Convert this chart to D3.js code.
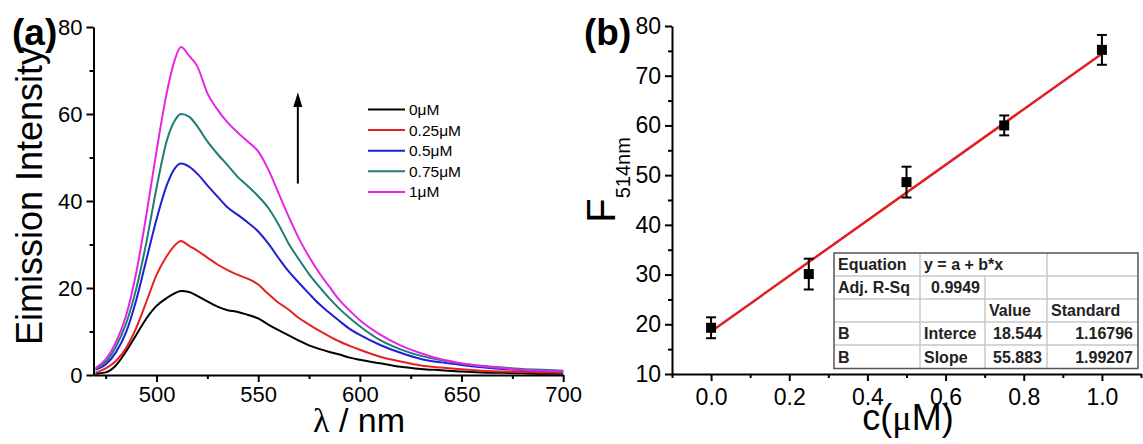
<!DOCTYPE html>
<html>
<head>
<meta charset="utf-8">
<script src="https://cdn.jsdelivr.net/npm/d3@7"></script>
<style>
  body { margin: 0; background: #fff; }
  svg { display: block; font-family: "Liberation Sans", Arial, sans-serif; }
  .axis path, .axis line { stroke: #000; stroke-width: 2; }
  .axis text { fill: #000; }
</style>
</head>
<body>
<svg id="chart" width="1143" height="444"></svg>
<script>
/*
*    two panel figure: emission spectra (a) and calibration line (b)
*/

// ---- (a) spectra, values ----
const wavelengths = [470, 475, 480, 485, 490, 495, 500, 505, 509, 512, 516, 520,
  525, 530, 535, 540, 545, 550, 555, 560, 565, 570, 575, 580, 585, 590, 595, 600,
  610, 620, 630, 640, 650, 660, 670, 680, 690, 700];

const conc0 = [0.3, 0.6, 2.2, 5.4, 9.2, 13.0, 15.9, 17.7, 18.8, 19.3, 19.1, 18.2,
  16.9, 15.7, 14.9, 14.5, 13.8, 13.0, 11.6, 10.3, 9.1, 7.9, 6.8, 6.0, 5.3, 4.7, 4.0, 3.5,
  2.7, 1.9, 1.4, 1.1, 0.8, 0.6, 0.5, 0.4, 0.3, 0.3];
const conc025 = [0.5, 1.5, 3.2, 6.2, 10.8, 16.8, 23.0, 27.3, 29.8, 30.8, 29.7, 28.6,
  27.0, 25.4, 24.1, 23.0, 22.1, 20.8, 18.6, 16.6, 15.0, 13.1, 11.6, 10.2, 8.9, 7.7, 6.7, 5.8,
  4.2, 3.1, 2.2, 1.7, 1.3, 1.0, 0.8, 0.7, 0.6, 0.5];
const conc05 = [1.2, 2.4, 5.2, 9.8, 17.2, 26.5, 35.8, 43.6, 47.5, 48.6, 47.9, 46.3,
  43.6, 41.0, 38.5, 36.8, 35.0, 33.0, 30.2, 26.9, 23.8, 21.2, 18.7, 16.3, 14.3, 12.4, 10.6, 9.2,
  6.9, 5.1, 3.7, 2.9, 2.3, 1.8, 1.4, 1.1, 0.9, 0.8];
const conc075 = [1.4, 3.0, 6.5, 11.8, 19.8, 30.5, 43.0, 53.8, 58.5, 60.0, 59.4, 57.2,
  53.7, 50.8, 48.2, 45.5, 43.4, 41.1, 38.4, 34.6, 30.2, 26.6, 23.2, 20.3, 17.6, 15.2, 13.1, 11.2,
  8.0, 5.9, 4.4, 3.4, 2.6, 2.1, 1.7, 1.4, 1.2, 1.0];
const conc1 = [1.6, 3.6, 7.5, 13.6, 23.5, 36.8, 51.5, 64.8, 72.5, 75.4, 73.4, 71.0,
  64.8, 61.0, 58.0, 55.7, 53.6, 51.4, 47.2, 41.8, 36.4, 31.4, 27.2, 23.5, 20.3, 17.2, 14.8, 12.6,
  9.3, 6.8, 5.0, 3.6, 2.7, 2.0, 1.6, 1.2, 1.0, 0.8];

const seriesLabels = ["0\u03bcM", "0.25\u03bcM", "0.5\u03bcM", "0.75\u03bcM", "1\u03bcM"];
const seriesValues = [conc0, conc025, conc05, conc075, conc1];
const seriesColors = ["#000000", "#e8201e", "#1f1fd6", "#1e7d70", "#e625e6"];

const xTicksA = [500, 550, 600, 650, 700];
const xMinorA = [475, 525, 575, 625, 675];
const yTicksA = [0, 20, 40, 60, 80];
const yMinorA = [10, 30, 50, 70];

// ---- (b) calibration ----
const concs = [0, 0.25, 0.5, 0.75, 1.0];
const f514 = [19.3, 30.1, 48.6, 60.0, 75.2];
const f514Err = [2.1, 3.1, 3.1, 2.0, 3.0];
const fitIntercept = 18.544;
const fitSlope = 55.883;

const xTicksB = [0, 0.2, 0.4, 0.6, 0.8, 1.0];
const xMinorB = [-0.1, 0.1, 0.3, 0.5, 0.7, 0.9, 1.1];
const yTicksB = [10, 20, 30, 40, 50, 60, 70, 80];
const yMinorB = [15, 25, 35, 45, 55, 65, 75];

const tableRows = [
  ["Equation", "y = a + b*x", "", ""],
  ["Adj. R-Sq", "0.9949", "", ""],
  ["", "", "Value", "Standard"],
  ["B", "Interce", "18.544", "1.16796"],
  ["B", "Slope", "55.883", "1.99207"]
];

const svg = d3.select("#chart");

// Scales
const xA = d3.scaleLinear().domain([469, 700]).range([93.5, 563.2]);
const yA = d3.scaleLinear().domain([0, 80]).range([375, 27]);
const xB = d3.scaleLinear().domain([-0.1, 1.1]).range([672, 1141]);
const yB = d3.scaleLinear().domain([10, 80]).range([374, 26]);

function drawAxes(x, y, opts) {
  const [x0] = x.range();
  const [y0] = y.range();

  svg.append("g").attr("class", "axis")
    .attr("transform", `translate(0,${y0})`)
    .call(d3.axisBottom(x).tickValues(opts.xMinor).tickSize(4).tickSizeOuter(0).tickFormat(""))
    .call(g => g.select(".domain").remove());
  svg.append("g").attr("class", "axis")
    .attr("transform", `translate(${x0},0)`)
    .call(d3.axisLeft(y).tickValues(opts.yMinor).tickSize(4).tickSizeOuter(0).tickFormat(""))
    .call(g => g.select(".domain").remove());

  svg.append("g").attr("class", "axis")
    .attr("transform", `translate(0,${y0})`)
    .call(d3.axisBottom(x).tickValues(opts.xMajor).tickSize(7).tickSizeOuter(0)
      .tickPadding(opts.xPad).tickFormat(opts.xFmt))
    .call(g => g.selectAll("text").style("font-size", opts.fs + "px").style("font-family", null));
  svg.append("g").attr("class", "axis")
    .attr("transform", `translate(${x0},0)`)
    .call(d3.axisLeft(y).tickValues(opts.yMajor).tickSize(7).tickSizeOuter(0)
      .tickPadding(opts.yPad).tickFormat(opts.yFmt))
    .call(g => g.selectAll("text").style("font-size", opts.fs + "px").style("font-family", null));
}

// ---------- panel (a) ----------
const line = d3.line()
  .x((d, i) => xA(wavelengths[i]))
  .y(d => yA(d))
  .curve(d3.curveMonotoneX);

svg.append("g")
  .selectAll("path")
  .data(seriesValues)
  .join("path")
    .attr("d", line)
    .attr("fill", "none")
    .attr("stroke", (d, i) => seriesColors[i])
    .attr("stroke-width", 2);

drawAxes(xA, yA, {
  xMajor: xTicksA, xMinor: xMinorA, yMajor: yTicksA, yMinor: yMinorA,
  xFmt: d3.format("d"), yFmt: d3.format("d"), fs: 22, xPad: 4, yPad: 4
});

// arrow
const arrowX = xA(569.5);
svg.append("line")
  .attr("x1", arrowX).attr("x2", arrowX)
  .attr("y1", yA(44)).attr("y2", yA(62))
  .attr("stroke", "#000").attr("stroke-width", 2);
svg.append("path")
  .attr("d", `M${arrowX},${yA(65)} L${arrowX - 4.5},${yA(61.6)} L${arrowX + 4.5},${yA(61.6)} Z`)
  .attr("fill", "#000");

// legend
const legend = svg.selectAll(".legend")
  .data(seriesLabels)
  .join("g")
    .attr("class", "legend")
    .attr("transform", (d, i) => `translate(368,${109.5 + i * 20.6})`);

legend.append("line")
  .attr("x1", 0).attr("x2", 37)
  .attr("stroke", (d, i) => seriesColors[i])
  .attr("stroke-width", 2);

legend.append("text")
  .attr("x", 41)
  .attr("dy", "0.35em")
  .style("font-size", "15.5px")
  .text(d => d);

// labels
svg.append("text")
  .attr("x", 12).attr("y", 45)
  .style("font-size", "37px").style("font-weight", "bold")
  .text("(a)");

svg.append("text")
  .attr("transform", "translate(42,196) rotate(-90)")
  .style("text-anchor", "middle")
  .style("font-size", "36px")
  .text("Eimission Intensity");

const xLabelA = svg.append("text")
  .attr("x", 359).attr("y", 432)
  .style("text-anchor", "middle")
  .style("font-size", "34px");
xLabelA.append("tspan").style("font-family", "'Liberation Serif', serif").text("\u03bb");
xLabelA.append("tspan").text(" / nm");

// ---------- panel (b) ----------
drawAxes(xB, yB, {
  xMajor: xTicksB, xMinor: xMinorB, yMajor: yTicksB, yMinor: yMinorB,
  xFmt: d3.format(".1f"), yFmt: d3.format("d"), fs: 23, xPad: 8, yPad: 4
});

// fit line
svg.append("line")
  .attr("x1", xB(0)).attr("y1", yB(fitIntercept))
  .attr("x2", xB(1)).attr("y2", yB(fitIntercept + fitSlope))
  .attr("stroke", "#e01e1e")
  .attr("stroke-width", 2.5);

// error bars and points
const pts = svg.append("g")
  .selectAll("g")
  .data(concs)
  .join("g");

pts.append("line")
  .attr("x1", d => xB(d)).attr("x2", d => xB(d))
  .attr("y1", (d, i) => yB(f514[i] - f514Err[i]))
  .attr("y2", (d, i) => yB(f514[i] + f514Err[i]))
  .attr("stroke", "#000").attr("stroke-width", 2);

[-1, 1].forEach(s => {
  pts.append("line")
    .attr("x1", d => xB(d) - 5).attr("x2", d => xB(d) + 5)
    .attr("y1", (d, i) => yB(f514[i] + s * f514Err[i]))
    .attr("y2", (d, i) => yB(f514[i] + s * f514Err[i]))
    .attr("stroke", "#000").attr("stroke-width", 2);
});

pts.append("rect")
  .attr("x", d => xB(d) - 5)
  .attr("y", (d, i) => yB(f514[i]) - 5)
  .attr("width", 10).attr("height", 10)
  .attr("fill", "#000");

// stats table
const colX = [834, 920, 985, 1047, 1138];
const rowY = [253, 276, 299, 322, 345, 368.5];
const table = svg.append("g");

table.append("rect")
  .attr("x", colX[0]).attr("y", rowY[0])
  .attr("width", colX[4] - colX[0]).attr("height", rowY[5] - rowY[0])
  .attr("fill", "#fff");

rowY.slice(1, 5).forEach(y => {
  table.append("line")
    .attr("x1", colX[0]).attr("x2", colX[4]).attr("y1", y).attr("y2", y)
    .attr("stroke", "#c8c8c8").attr("stroke-width", 1.5);
});
[[1, 0], [2, 1], [3, 0]].forEach(([c, r]) => {
  table.append("line")
    .attr("x1", colX[c]).attr("x2", colX[c]).attr("y1", rowY[r]).attr("y2", rowY[5])
    .attr("stroke", "#c8c8c8").attr("stroke-width", 1.5);
});

table.append("rect")
  .attr("x", colX[0]).attr("y", rowY[0])
  .attr("width", colX[4] - colX[0]).attr("height", rowY[5] - rowY[0])
  .attr("fill", "none")
  .attr("stroke", "#555").attr("stroke-width", 1.5);

tableRows.forEach((row, r) => {
  row.forEach((cell, c) => {
    if (!cell) return;
    const numeric = /^[0-9.]+$/.test(cell);
    table.append("text")
      .attr("x", numeric ? colX[c + 1] - 5 : colX[c] + 4)
      .attr("y", (rowY[r] + rowY[r + 1]) / 2)
      .attr("dy", "0.36em")
      .style("text-anchor", numeric ? "end" : "start")
      .style("font-size", "16px")
      .style("font-weight", "bold")
      .style("fill", "#222")
      .text(cell);
  });
});

// labels
svg.append("text")
  .attr("x", 584).attr("y", 45)
  .style("font-size", "37px").style("font-weight", "bold")
  .text("(b)");

const yLabelB = svg.append("text")
  .attr("transform", "translate(615,180) rotate(-90)")
  .style("text-anchor", "middle");
yLabelB.append("tspan").style("font-size", "40px").text("F");
yLabelB.append("tspan").attr("dy", 15).style("font-size", "20px").text("514nm");

const xLabelB = svg.append("text")
  .attr("x", 908).attr("y", 430)
  .style("text-anchor", "middle")
  .style("font-size", "36px");
xLabelB.append("tspan").text("c(");
xLabelB.append("tspan").style("font-family", "'Liberation Serif', serif").text("\u03bc");
xLabelB.append("tspan").text("M)");
</script>
</body>
</html>
